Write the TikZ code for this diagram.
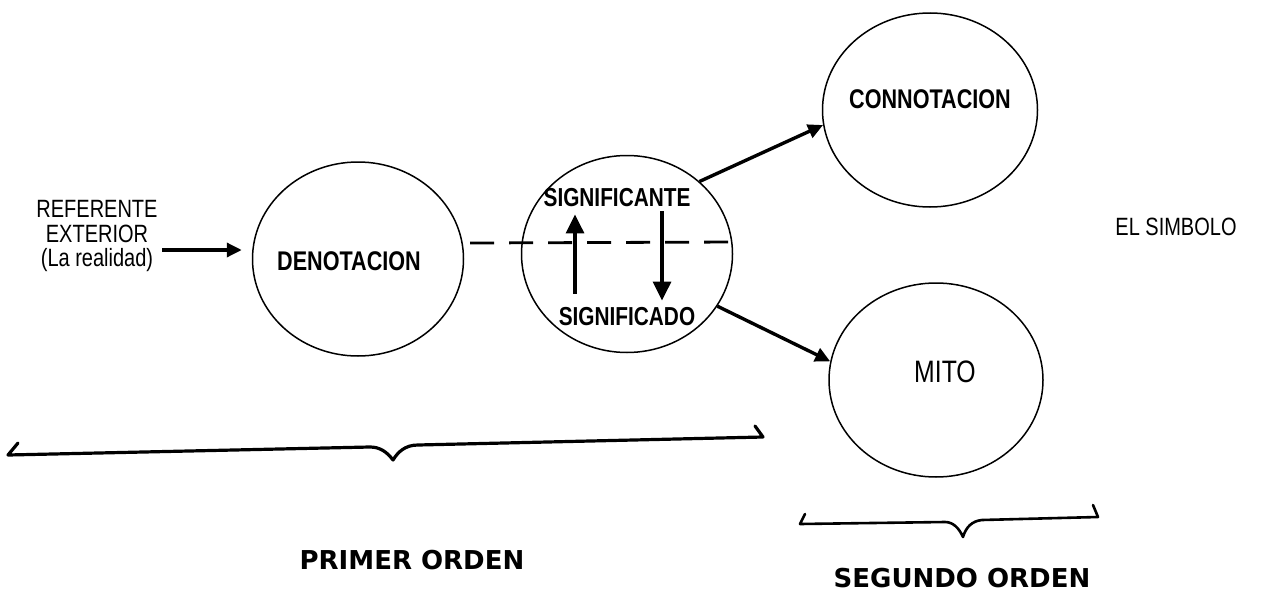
\documentclass[tikz,border=0pt]{standalone}
\usepackage{fontspec}
\setmainfont{Liberation Sans}
\newfontfamily\narrowfont{Liberation Sans}[FakeStretch=0.8]
\newfontfamily\widefont{DejaVu Sans}
\usetikzlibrary{arrows.meta,shapes.geometric,calc}
\begin{document}
\begin{tikzpicture}[x=1pt,y=-1pt,
  oval/.style={draw, ellipse, line width=1.5pt, inner sep=0pt},
  boldlbl/.style={inner sep=0pt, font=\narrowfont\bfseries\fontsize{27}{27}\selectfont},
  smallbold/.style={inner sep=0pt, font=\narrowfont\bfseries\fontsize{26}{26}\selectfont},
  reglbl/.style={inner sep=0pt, align=center, font=\narrowfont\fontsize{25}{24.5}\selectfont},
  orderlbl/.style={inner sep=0pt, font=\widefont\bfseries\fontsize{26}{26}\selectfont},
  conn/.style={line width=3.4pt, -{Triangle[length=15pt,width=14pt]}},
  bigarrow/.style={line width=3.2pt, -{Triangle[length=19pt,width=18pt]}},
  dashline/.style={line width=2.8pt, dash pattern=on 24pt off 15pt},
  bracestroke/.style={line width=3.2pt, line join=round, line cap=round}
]
\useasboundingbox (0,0) rectangle (1264,597);
\fill[white] (0,0) rectangle (1264,597);

% ellipses
\node[oval, minimum width=211pt, minimum height=194pt] (den) at (358,259) {};
\node[oval, minimum width=211pt, minimum height=197pt] (mid) at (627,254) {};
\node[oval, minimum width=215pt, minimum height=194pt] (con) at (930,110) {};
\node[oval, minimum width=214pt, minimum height=194pt] (mito) at (936,380) {};

% texts
\node[boldlbl] (dentxt) at (349,261) {DENOTACION};
\node[boldlbl] (contxt) at (930,99) {CONNOTACION};
\node[smallbold] (sigte) at (617,198) {SIGNIFICANTE};
\node[smallbold] (sigdo) at (627,317) {SIGNIFICADO};
\node[inner sep=0pt, font=\narrowfont\fontsize{31}{31}\selectfont] (mitotxt) at (945,372) {MITO};
\node[reglbl] (ref) at (97,236) {REFERENTE\\EXTERIOR\\(La realidad)};
\node[inner sep=0pt, font=\narrowfont\fontsize{25}{25}\selectfont] (simb) at (1176,227) {EL SIMBOLO};
\node[orderlbl] (prim) at (412,560) {PRIMER ORDEN};
\node[orderlbl] (seg) at (962,578) {SEGUNDO ORDEN};

% connectors
\coordinate (refout) at (162,250);
\draw[conn, shorten >=10pt] (refout) -- (refout -| den.west);
\coordinate (dA) at (470,243);
\coordinate (dB) at (736,242);
\draw[dashline] (dA) -- (dB);
\draw[conn] (mid.45) -- (con.188);
\draw[conn] (mid.-30) -- (mito.170);
\draw[bigarrow, shorten <=14pt, shorten >=7pt] ([xshift=-52pt]sigdo.north) -- ([xshift=-42pt]sigte.south);
\draw[bigarrow, shorten <=4pt, shorten >=7pt] ([xshift=45pt]sigte.south) -- ([xshift=35pt]sigdo.north);

% braces
\draw[bracestroke] (18,443) -- (8,455) -- (370,447)
  .. controls (380,447) and (387,452) .. (393,460)
  .. controls (398,452) and (405,445) .. (418,445) -- (763,437) -- (755,426);
\draw[bracestroke, line width=2.6pt] (805,514) -- (800,524) -- (945,522)
  .. controls (953,522) and (959,528) .. (963,537)
  .. controls (966,527) and (972,521) .. (982,520) -- (1098,517) -- (1093,505);
\end{tikzpicture}
\end{document}
